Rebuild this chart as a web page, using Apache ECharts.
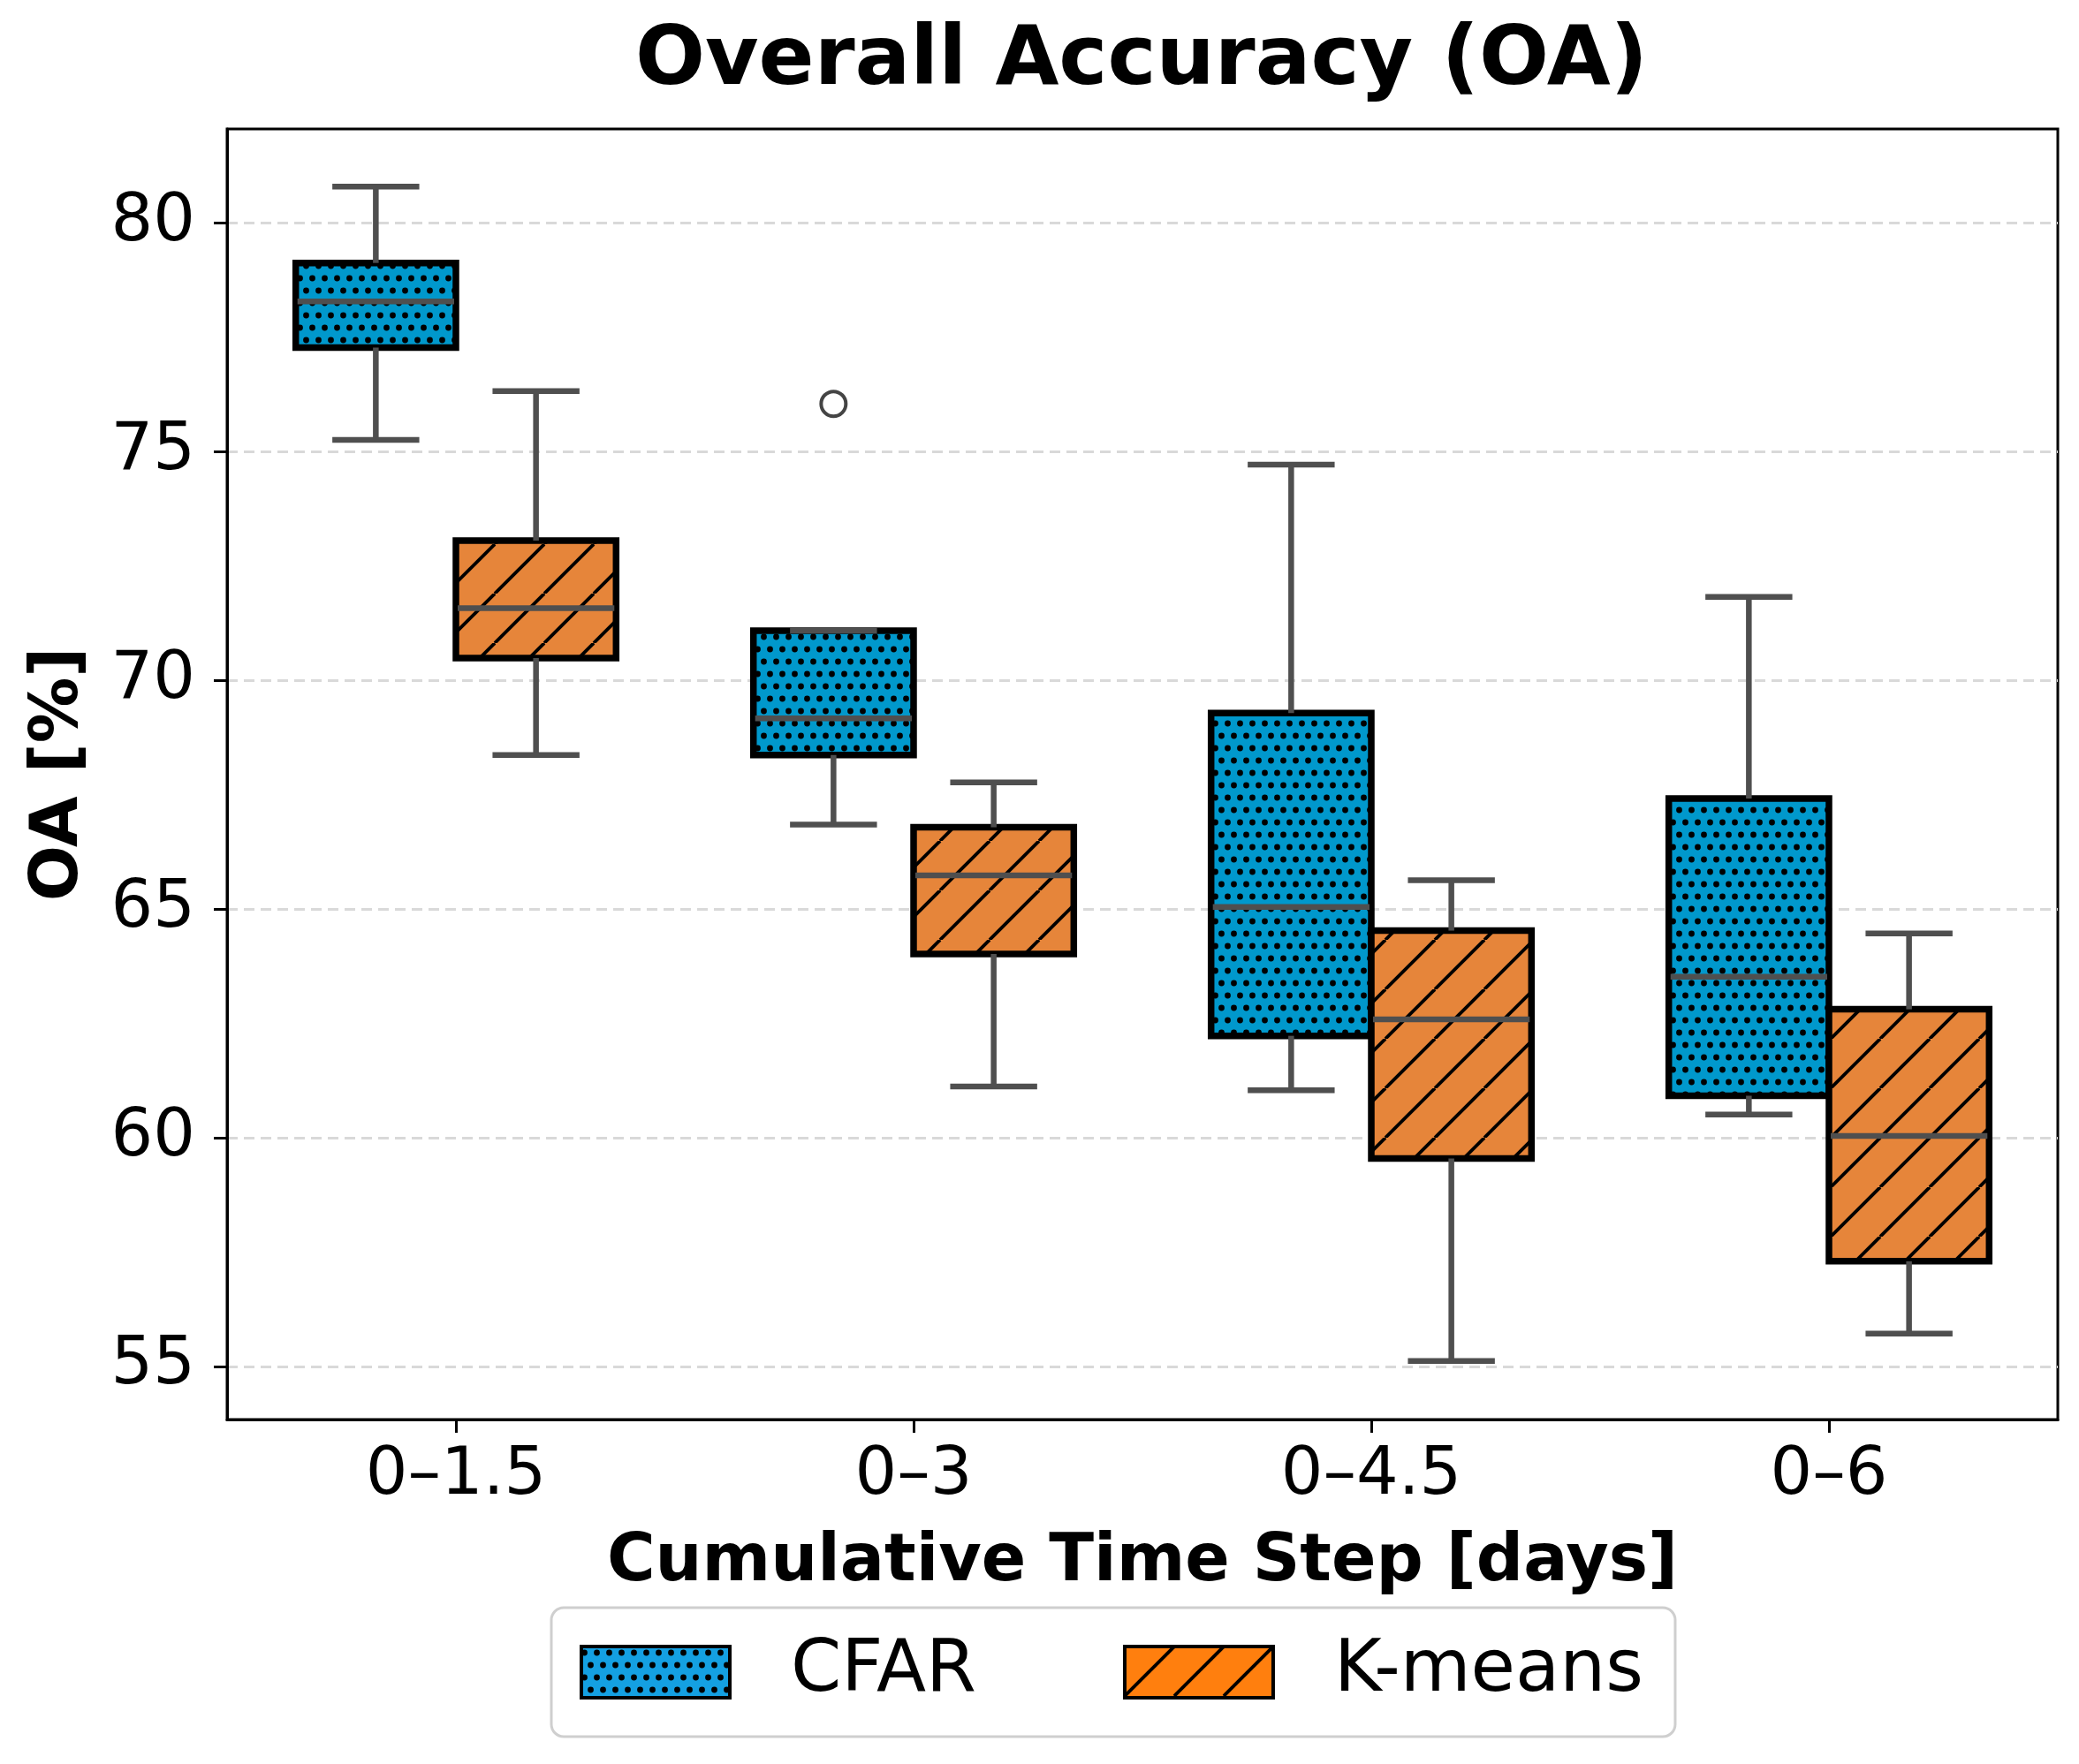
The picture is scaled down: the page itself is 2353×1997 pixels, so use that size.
<!DOCTYPE html>
<html>
<head>
<meta charset="utf-8">
<script src="https://cdn.jsdelivr.net/npm/echarts@6/dist/echarts.min.js"></script>
<style>
  html, body { margin: 0; padding: 0; background: #ffffff; }
  #chart { width: 2353px; height: 1997px; }
</style>
</head>
<body>
<div id="chart"></div>
<script>
// ---------- data ----------
const categories = ['0–1.5', '0–3', '0–4.5', '0–6'];
const seriesNames = ['CFAR', 'K-means'];
const yTickValues = [55, 60, 65, 70, 75, 80];

const cfarLow    = [75.26, 66.85, 61.04, 60.51];
const cfarQ1     = [77.28, 68.37, 62.23, 60.92];
const cfarMedian = [78.29, 69.17, 65.05, 63.52];
const cfarQ3     = [79.13, 71.09, 69.29, 67.42];
const cfarHigh   = [80.80, 71.09, 74.72, 71.83];

const kmLow    = [68.37, 61.12, 55.12, 55.72];
const kmQ1     = [70.49, 64.02, 59.55, 57.30];
const kmMedian = [71.58, 65.74, 62.59, 60.04];
const kmQ3     = [73.06, 66.79, 64.53, 62.81];
const kmHigh   = [76.33, 67.77, 65.63, 64.47];

const cfarOutliers = [[1, 76.05]];
const kmOutliers = [];

// ---------- styles ----------
const FONT = '"DejaVu Sans", sans-serif';
const BOX_FRAC = 0.35;     // box width as fraction of category band
const CAP_FRAC = 0.19;     // cap width as fraction of category band
const WHISKER_COLOR = '#4f4f4f';

function dotPattern(bg) {
  const c = document.createElement('canvas');
  c.width = 14; c.height = 28;
  const g = c.getContext('2d');
  g.fillStyle = bg; g.fillRect(0, 0, 14, 28);
  g.fillStyle = '#000';
  const dots = [[3.5, 7], [10.5, 21]];
  dots.forEach(([x, y]) => { g.beginPath(); g.arc(x, y, 3.4, 0, Math.PI * 2); g.fill(); });
  return { image: c, repeat: 'repeat' };
}
function hatchPattern(bg) {
  const s = 56;
  const c = document.createElement('canvas');
  c.width = s; c.height = s;
  const g = c.getContext('2d');
  g.fillStyle = bg; g.fillRect(0, 0, s, s);
  g.strokeStyle = '#000'; g.lineWidth = 3.8;
  for (let k = -1; k <= 1; k++) {
    g.beginPath(); g.moveTo(k * s, s); g.lineTo(k * s + s, 0); g.stroke();
  }
  return { image: c, repeat: 'repeat' };
}

const cfarFill = dotPattern('#0098cc');
const kmFill = hatchPattern('#e6853a');
const cfarLegendFill = dotPattern('#14a0e2');
const kmLegendFill = hatchPattern('#ff7f0e');

function boxData(low, q1, med, q3, high) {
  return categories.map((c, i) => [i, low[i], q1[i], med[i], q3[i], high[i]]);
}

function makeBoxRender(side, fill) {
  return function (params, api) {
    const cat = api.value(0);
    const low = api.value(1), q1 = api.value(2), med = api.value(3), q3 = api.value(4), high = api.value(5);
    const band = api.size([1, 0])[0];
    const boxW = band * BOX_FRAC;
    const capW = band * CAP_FRAC;
    const c = api.coord([cat, med]);
    const xc = c[0] + side * boxW / 2;
    const x0 = xc - boxW / 2;
    const yLow = api.coord([cat, low])[1];
    const yQ1 = api.coord([cat, q1])[1];
    const yMed = c[1];
    const yQ3 = api.coord([cat, q3])[1];
    const yHigh = api.coord([cat, high])[1];
    const ls = { stroke: WHISKER_COLOR, lineWidth: 6.5, lineCap: 'butt' };
    return {
      type: 'group',
      children: [
        { type: 'rect', shape: { x: x0, y: yQ3, width: boxW, height: yQ1 - yQ3 },
          style: { fill: fill, stroke: '#000', lineWidth: 7.5 } },
        { type: 'line', shape: { x1: xc, y1: yQ3, x2: xc, y2: yHigh }, style: ls },
        { type: 'line', shape: { x1: xc, y1: yQ1, x2: xc, y2: yLow }, style: ls },
        { type: 'line', shape: { x1: xc - capW / 2, y1: yHigh, x2: xc + capW / 2, y2: yHigh }, style: ls },
        { type: 'line', shape: { x1: xc - capW / 2, y1: yLow, x2: xc + capW / 2, y2: yLow }, style: ls },
        { type: 'line', shape: { x1: x0 + 2, y1: yMed, x2: x0 + boxW - 2, y2: yMed }, style: ls }
      ]
    };
  };
}

function makeOutlierRender(side) {
  return function (params, api) {
    const cat = api.value(0);
    const band = api.size([1, 0])[0];
    const p = api.coord([cat, api.value(1)]);
    return {
      type: 'circle',
      shape: { cx: p[0] + side * band * BOX_FRAC / 2, cy: p[1], r: 14 },
      style: { fill: '#fff', stroke: '#444', lineWidth: 4 }
    };
  };
}

const chart = echarts.init(document.getElementById('chart'), null, { renderer: 'canvas' });

const option = {
  backgroundColor: '#ffffff',
  animation: false,
  title: {
    text: 'Overall Accuracy (OA)',
    left: 1292, top: 24, padding: 0,
    textAlign: 'center',
    textStyle: { fontFamily: FONT, fontSize: 93, fontWeight: 'bold', color: '#000' }
  },
  grid: {
    left: 257, top: 146, right: 24, bottom: 390,
    show: true, borderColor: '#000', borderWidth: 3, backgroundColor: 'transparent'
  },
  legend: {
    left: 624, top: 1820,
    orient: 'horizontal',
    padding: [32, 36, 32, 32],
    itemWidth: 168, itemHeight: 58, itemGap: 166,
    borderColor: '#cfcfcf', borderWidth: 3, borderRadius: 14,
    backgroundColor: '#fff',
    selectedMode: false,
    textStyle: { fontFamily: FONT, fontSize: 82, color: '#000', padding: [0, 0, 0, 64] },
    data: [
      { name: seriesNames[0], icon: 'rect', itemStyle: { color: cfarLegendFill, borderColor: '#000', borderWidth: 4 } },
      { name: seriesNames[1], icon: 'rect', itemStyle: { color: kmLegendFill, borderColor: '#000', borderWidth: 4 } }
    ]
  },
  xAxis: {
    type: 'category',
    data: categories,
    boundaryGap: true,
    name: 'Cumulative Time Step [days]',
    nameLocation: 'middle',
    nameGap: 125,
    nameTextStyle: { fontFamily: FONT, fontSize: 74.5, fontWeight: 'bold', color: '#000' },
    axisLine: { show: true, lineStyle: { color: '#000', width: 3 } },
    axisTick: { show: true, alignWithLabel: true, length: 15, lineStyle: { color: '#000', width: 3 } },
    axisLabel: { fontFamily: FONT, fontSize: 75, color: '#000', margin: 27 },
    splitLine: { show: false }
  },
  yAxis: {
    type: 'value',
    min: 53.84, max: 82.06,
    name: 'OA [%]',
    nameLocation: 'middle',
    nameGap: 152,
    nameRotate: 90,
    nameTextStyle: { fontFamily: FONT, fontSize: 74.5, fontWeight: 'bold', color: '#000' },
    axisLine: { show: true, lineStyle: { color: '#000', width: 3 } },
    axisTick: { show: true, length: 15, lineStyle: { color: '#000', width: 3 }, customValues: yTickValues },
    axisLabel: {
      fontFamily: FONT, fontSize: 75, color: '#000', margin: 36,
      customValues: yTickValues,
      formatter: function (v) { return Math.abs(v / 5 - Math.round(v / 5)) < 1e-6 ? String(v) : ''; }
    },
    splitLine: { show: true, showMinLine: true, showMaxLine: true,
      lineStyle: { color: '#d9d9d9', width: 3, type: [12, 7] } }
  },
  series: [
    { name: seriesNames[0], type: 'custom', renderItem: makeBoxRender(-1, cfarFill),
      encode: { x: 0, y: [1, 2, 3, 4, 5] }, itemStyle: { color: '#14a0e2' },
      data: boxData(cfarLow, cfarQ1, cfarMedian, cfarQ3, cfarHigh), z: 3 },
    { name: seriesNames[1], type: 'custom', renderItem: makeBoxRender(1, kmFill),
      encode: { x: 0, y: [1, 2, 3, 4, 5] }, itemStyle: { color: '#ff7f0e' },
      data: boxData(kmLow, kmQ1, kmMedian, kmQ3, kmHigh), z: 3 },
    { name: 'CFAR outliers', type: 'custom', renderItem: makeOutlierRender(-1),
      encode: { x: 0, y: 1 }, data: cfarOutliers, z: 4 },
    { name: 'K-means outliers', type: 'custom', renderItem: makeOutlierRender(1),
      encode: { x: 0, y: 1 }, data: kmOutliers, z: 4 }
  ]
};
chart.setOption(option);
</script>
</body>
</html>
